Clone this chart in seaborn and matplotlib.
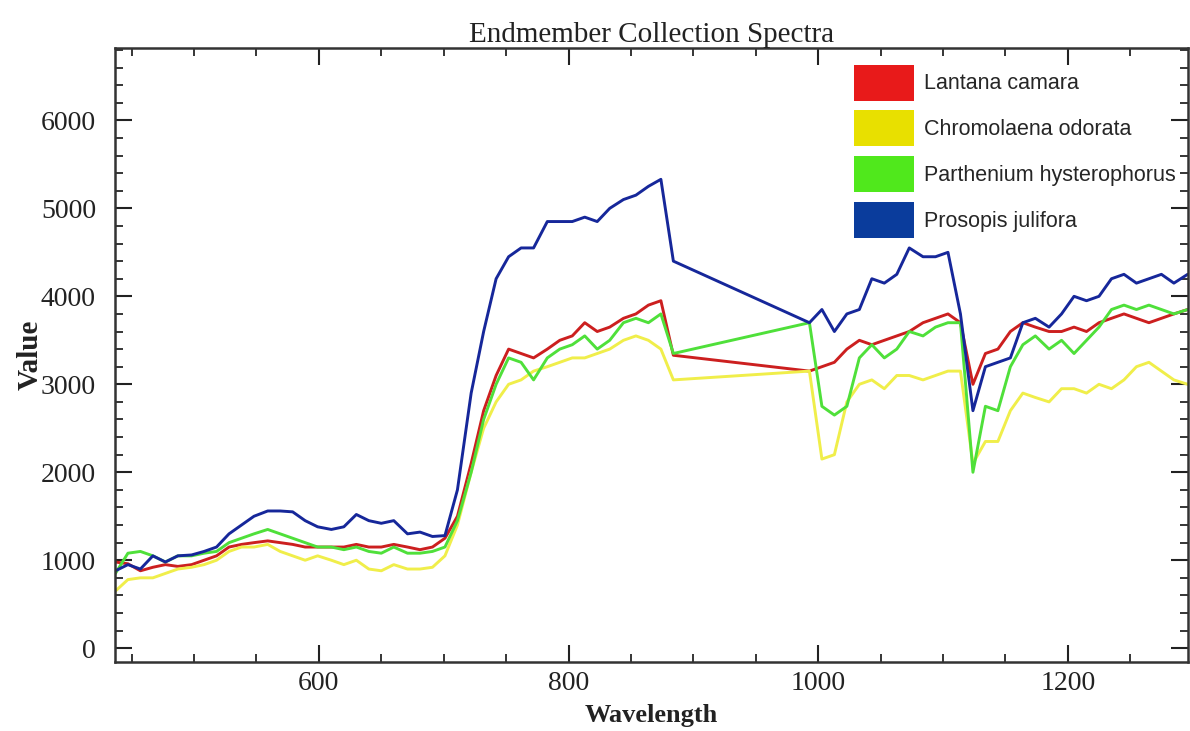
import numpy as np
import pandas as pd
import matplotlib
matplotlib.use("Agg")
import matplotlib.pyplot as plt
import seaborn as sns
from matplotlib.patches import Patch
from matplotlib.ticker import MultipleLocator

# ---- data ----
wavelength = [437, 447, 457, 467, 477, 487, 498, 508, 518, 528, 538, 548, 559, 569, 579,
              589, 599, 610, 620, 630, 640, 650, 660, 671, 681, 691, 701, 711, 722, 732,
              742, 752, 762, 772, 783, 793, 803, 813, 823, 833, 844, 854, 864, 874, 884,
              993, 1003, 1013, 1023, 1033, 1043, 1053, 1063, 1073, 1084, 1094, 1104, 1114,
              1124, 1134, 1144, 1154, 1164, 1174, 1185, 1195, 1205, 1215, 1225, 1235, 1245,
              1255, 1265, 1275, 1285, 1296]

lantana = [980, 960, 880, 920, 950, 930, 950, 1000, 1050, 1150, 1180, 1200, 1220, 1200, 1180,
           1150, 1150, 1150, 1150, 1180, 1150, 1150, 1180, 1150, 1120, 1150, 1250, 1500, 2100, 2700,
           3100, 3400, 3350, 3300, 3400, 3500, 3550, 3700, 3600, 3650, 3750, 3800, 3900, 3950, 3330,
           3150, 3200, 3250, 3400, 3500, 3450, 3500, 3550, 3600, 3700, 3750, 3800, 3700,
           3000, 3350, 3400, 3600, 3700, 3650, 3600, 3600, 3650, 3600, 3700, 3750, 3800,
           3750, 3700, 3750, 3800, 3850]

chromolaena = [650, 780, 800, 800, 850, 900, 920, 950, 1000, 1100, 1150, 1150, 1180, 1100, 1050,
               1000, 1050, 1000, 950, 1000, 900, 880, 950, 900, 900, 920, 1050, 1400, 2000, 2500,
               2800, 3000, 3050, 3150, 3200, 3250, 3300, 3300, 3350, 3400, 3500, 3550, 3500, 3400, 3050,
               3150, 2150, 2200, 2800, 3000, 3050, 2950, 3100, 3100, 3050, 3100, 3150, 3150,
               2100, 2350, 2350, 2700, 2900, 2850, 2800, 2950, 2950, 2900, 3000, 2950, 3050,
               3200, 3250, 3150, 3050, 3000]

parthenium = [850, 1080, 1100, 1050, 980, 1050, 1050, 1080, 1100, 1200, 1250, 1300, 1350, 1300, 1250,
              1200, 1150, 1150, 1120, 1150, 1100, 1080, 1150, 1080, 1080, 1100, 1150, 1450, 2000, 2600,
              3000, 3300, 3250, 3050, 3300, 3400, 3450, 3550, 3400, 3500, 3700, 3750, 3700, 3800, 3350,
              3700, 2750, 2650, 2750, 3300, 3450, 3300, 3400, 3600, 3550, 3650, 3700, 3700,
              2000, 2750, 2700, 3200, 3450, 3550, 3400, 3500, 3350, 3500, 3650, 3850, 3900,
              3850, 3900, 3850, 3800, 3850]

prosopis = [880, 950, 900, 1050, 980, 1050, 1060, 1100, 1150, 1300, 1400, 1500, 1560, 1560, 1550,
            1450, 1380, 1350, 1380, 1520, 1450, 1420, 1450, 1300, 1320, 1270, 1280, 1800, 2900, 3600,
            4200, 4450, 4550, 4550, 4850, 4850, 4850, 4900, 4850, 5000, 5100, 5150, 5250, 5330, 4400,
            3700, 3850, 3600, 3800, 3850, 4200, 4150, 4250, 4550, 4450, 4450, 4500, 3800,
            2700, 3200, 3250, 3300, 3700, 3750, 3650, 3800, 4000, 3950, 4000, 4200, 4250,
            4150, 4200, 4250, 4150, 4250]

species = ["Lantana camara", "Chromolaena odorata", "Parthenium hysterophorus", "Prosopis julifora"]
line_colors = ["#cc1f1f", "#f0ee4a", "#4fe03a", "#16279a"]
swatch_colors = ["#e81a1a", "#e8e000", "#50e81c", "#0a3c9c"]

frames = []
for name, vals in zip(species, [lantana, chromolaena, parthenium, prosopis]):
    frames.append(pd.DataFrame({"Wavelength": wavelength, "Value": vals, "Species": name}))
df = pd.concat(frames, ignore_index=True)

sns.set_style("ticks")
plt.rcParams["font.family"] = ["Liberation Serif", "DejaVu Serif"]

fig = plt.figure(figsize=(11.9, 7.31), dpi=100)
ax = fig.add_axes([0.097, 0.094, 0.901, 0.840])

sns.lineplot(data=df, x="Wavelength", y="Value", hue="Species", hue_order=species,
             palette=dict(zip(species, line_colors)), linewidth=2.1, ax=ax, legend=False,
             sort=False, estimator=None)

ax.set_xlim(437, 1296)
ax.set_ylim(-160, 6820)
ax.xaxis.set_major_locator(MultipleLocator(200))
ax.xaxis.set_minor_locator(MultipleLocator(50))
ax.yaxis.set_major_locator(MultipleLocator(1000))
ax.yaxis.set_minor_locator(MultipleLocator(200))
ax.tick_params(axis="both", which="major", direction="in", length=12, width=1.5,
               top=True, right=True, labelsize=20, colors="#222222")
ax.tick_params(axis="x", which="major", pad=6)
ax.tick_params(axis="y", which="major", pad=14)
ax.tick_params(axis="both", which="minor", direction="in", length=6, width=1.3,
               top=True, right=True)
for sp in ax.spines.values():
    sp.set_linewidth(1.8)
    sp.set_color("#333333")

ax.set_xlabel("Wavelength", fontsize=19, fontweight="bold", color="#222222", labelpad=6)
ax.set_ylabel("Value", fontsize=21, fontweight="bold", color="#222222", labelpad=-2)
ax.set_title("Endmember Collection Spectra", fontsize=21, color="#222222", pad=4)

handles = [Patch(facecolor=c, edgecolor="none") for c in swatch_colors]
leg = ax.legend(handles, species, loc="upper right", frameon=False,
                prop={"family": "Liberation Sans", "size": 15.5},
                handlelength=2.8, handleheight=2.2, labelspacing=0.45,
                handletextpad=0.45, borderaxespad=0.3, bbox_to_anchor=(1.003, 0.998))

fig.savefig("out.png", dpi=100)
